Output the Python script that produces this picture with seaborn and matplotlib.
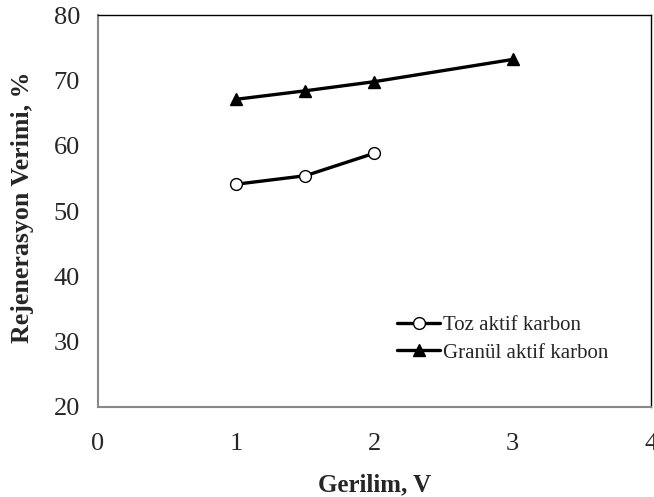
import matplotlib
matplotlib.use("Agg")
import matplotlib.pyplot as plt
import seaborn as sns
import pandas as pd
from matplotlib.lines import Line2D

toz_x = [1.0, 1.5, 2.0]
toz_y = [54.1, 55.4, 58.85]
gran_x = [1.0, 1.5, 2.0, 3.0]
gran_y = [67.1, 68.4, 69.8, 73.2]
series_names = ["Toz aktif karbon", "Granül aktif karbon"]
x_ticks = [0, 1, 2, 3, 4]
y_ticks = [20, 30, 40, 50, 60, 70, 80]

sns.set_theme(style="white")
plt.rcParams['font.family'] = ['Liberation Serif', 'DejaVu Serif']

df = pd.DataFrame({
    "x": toz_x + gran_x,
    "y": toz_y + gran_y,
    "s": [series_names[0]] * len(toz_x) + [series_names[1]] * len(gran_x),
})

fig = plt.figure(figsize=(6.54, 4.97), dpi=100)
ax = fig.add_axes([0.1498, 0.1811, 0.8456, 0.7887])

sns.lineplot(data=df, x="x", y="y", hue="s", style="s",
             palette={series_names[0]: "black", series_names[1]: "black"},
             markers={series_names[0]: "o", series_names[1]: "^"},
             dashes=False, linewidth=2.4, markersize=8.5, ax=ax, legend=False)
for line, fc in zip(ax.lines, ["white", "black"]):
    line.set_markerfacecolor(fc)
    line.set_markeredgecolor("black")
    line.set_markeredgewidth(1.0)

ax.set_xlim(0, 4)
ax.set_ylim(20, 80)
ax.set_xticks(x_ticks)
ax.set_yticks(y_ticks)
ax.tick_params(axis="both", which="major", direction="out", length=5, width=1.2,
               color="#888888", labelsize=19)
ax.tick_params(axis="x", pad=14)
ax.tick_params(axis="y", pad=8)
for sp in ["left", "bottom"]:
    ax.spines[sp].set_color("#888888")
    ax.spines[sp].set_linewidth(1.5)
for sp in ["top", "right"]:
    ax.spines[sp].set_color("black")
    ax.spines[sp].set_linewidth(1.0)

ax.set_xlabel("Gerilim, V", fontsize=18, fontweight="bold", labelpad=13)
ax.set_ylabel("Rejenerasyon Verimi, %", fontsize=18.6, fontweight="bold")
ax.yaxis.set_label_coords(-0.115, 0.51)

handles = [
    Line2D([], [], color="black", lw=2.4, marker="o", markersize=8.5,
           markerfacecolor="white", markeredgecolor="black"),
    Line2D([], [], color="black", lw=2.4, marker="^", markersize=8.5,
           markerfacecolor="black", markeredgecolor="black"),
]
ax.legend(handles, series_names, loc="center left", bbox_to_anchor=(0.541, 0.173),
          frameon=False, fontsize=15, handlelength=2.07, handletextpad=0.15,
          labelspacing=0.38, borderpad=0, borderaxespad=0)

fig.savefig("out.png", dpi=100)
